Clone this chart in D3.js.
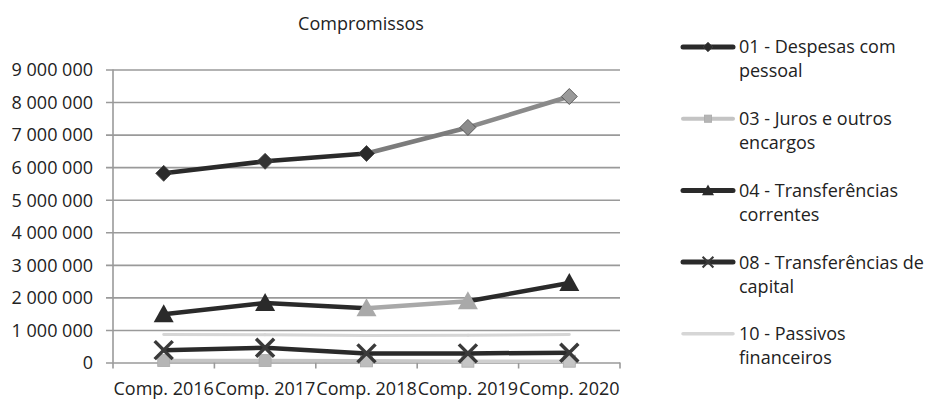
<!DOCTYPE html>
<html>
<head>
<meta charset="utf-8">
<script src="https://cdn.jsdelivr.net/npm/d3@7"></script>
<style>
  html, body { margin: 0; padding: 0; background: #fff; }
  svg { display: block; }
  text { font-family: "Open Sans", "Noto Sans", sans-serif; fill: #222; }
</style>
</head>
<body>
<div id="chart"></div>
<script>
// ---- data ----
const title = "Compromissos";
const categories = ["Comp. 2016", "Comp. 2017", "Comp. 2018", "Comp. 2019", "Comp. 2020"];
const seriesNames = [
  "01 - Despesas com pessoal",
  "03 - Juros e outros encargos",
  "04 - Transferências correntes",
  "08 - Transferências de capital",
  "10 - Passivos financeiros"
];
const despesasPessoal = [5810000, 6180000, 6420000, 7220000, 8170000];
const jurosEncargos = [60000, 60000, 50000, 40000, 40000];
const transfCorrentes = [1480000, 1830000, 1670000, 1880000, 2440000];
const transfCapital = [380000, 450000, 280000, 280000, 300000];
const passivosFinanceiros = [860000, 850000, 830000, 840000, 860000];
const yTicks = [0, 1000000, 2000000, 3000000, 4000000, 5000000, 6000000, 7000000, 8000000, 9000000];

// ---- styles (kept separate from data) ----
const styles = [
  { marker: "diamond", seg: ["#2a2a2a", "#2a2a2a", "#7c7c7c", "#8a8a8a"], mk: ["#2a2a2a", "#333", "#2a2a2a", "#8c8c8c", "#9a9a9a"], w: 4.5 },
  { marker: "square", seg: ["#c4c4c4", "#c4c4c4", "#c8c8c8", "#cfcfcf"], mk: ["#b5b5b5", "#b5b5b5", "#bdbdbd", "#c5c5c5", "#c5c5c5"], w: 3.5 },
  { marker: "triangle", seg: ["#2a2a2a", "#2a2a2a", "#a9a9a9", "#2a2a2a"], mk: ["#2a2a2a", "#2a2a2a", "#a9a9a9", "#a9a9a9", "#2a2a2a"], w: 4.5 },
  { marker: "x", seg: ["#2a2a2a", "#2a2a2a", "#2a2a2a", "#2a2a2a"], mk: ["#3a3a3a", "#3a3a3a", "#3a3a3a", "#3a3a3a", "#3a3a3a"], w: 4.5 },
  { marker: "none", seg: ["#d6d6d6", "#d6d6d6", "#d6d6d6", "#d6d6d6"], mk: ["#ddd", "#ddd", "#ddd", "#ddd", "#ddd"], w: 3 }
];
const seriesValues = [despesasPessoal, jurosEncargos, transfCorrentes, transfCapital, passivosFinanceiros];

const W = 927, H = 399;
const svg = d3.select("#chart").append("svg").attr("width", W).attr("height", H);

const plot = { left: 113, right: 620, top: 69.5, bottom: 362.5 };
const x = d3.scaleBand().domain(categories).range([plot.left, plot.right]);
const y = d3.scaleLinear().domain([0, 9000000]).range([plot.bottom, plot.top]);

const loc = d3.formatLocale({ decimal: ",", thousands: " ", grouping: [3], currency: ["", ""] });
const fmt = loc.format(",d");

// title
svg.append("text").attr("x", 361).attr("y", 30).attr("text-anchor", "middle")
  .style("font-size", "18px").text(title);

// y axis with gridlines
const yAxis = d3.axisLeft(y).tickValues(yTicks).tickFormat(fmt)
  .tickSize(-(plot.right - plot.left)).tickPadding(20);
const gy = svg.append("g").attr("transform", `translate(${plot.left},0)`).call(yAxis);
gy.select(".domain").remove();
gy.selectAll(".tick line").attr("x1", -7).attr("stroke", "#9a9a9a").attr("stroke-width", 1.6);
gy.selectAll(".tick text").style("font-size", "18px").attr("fill", "#222").attr("dy", "0.35em");

// vertical axis line
svg.append("line").attr("x1", plot.left).attr("x2", plot.left)
  .attr("y1", y(9000000)).attr("y2", y(0))
  .attr("stroke", "#9a9a9a").attr("stroke-width", 1.6);

// x axis
const xAxis = d3.axisBottom(x).tickSize(0).tickPadding(20);
const gx = svg.append("g").attr("transform", `translate(0,${plot.bottom})`).call(xAxis);
gx.select(".domain").remove();
gx.selectAll(".tick text").style("font-size", "18px").attr("fill", "#222").attr("dy", "0.71em");
// category boundary ticks
const bounds = categories.map(c => x(c)).concat([x(categories[categories.length - 1]) + x.bandwidth()]);
svg.append("g").selectAll("line").data(bounds).join("line")
  .attr("x1", d => d).attr("x2", d => d)
  .attr("y1", plot.bottom).attr("y2", plot.bottom + 6)
  .attr("stroke", "#9a9a9a").attr("stroke-width", 1.6);

const cx = c => x(c) + x.bandwidth() / 2;

function drawMarker(g, type, px, py, fill, size) {
  const s = size || 1;
  if (type === "diamond") {
    g.append("path").attr("d", `M${px},${py - 8 * s}L${px + 8 * s},${py}L${px},${py + 8 * s}L${px - 8 * s},${py}Z`)
      .attr("fill", fill).attr("stroke", "#444").attr("stroke-width", 0.8);
  } else if (type === "square") {
    g.append("rect").attr("x", px - 6 * s).attr("y", py - 6 * s).attr("width", 12 * s).attr("height", 12 * s)
      .attr("fill", fill).attr("stroke", "#aaa").attr("stroke-width", 0.8);
  } else if (type === "triangle") {
    g.append("path").attr("d", `M${px},${py - 10 * s}L${px + 10 * s},${py + 8 * s}L${px - 10 * s},${py + 8 * s}Z`)
      .attr("fill", fill);
  } else if (type === "x") {
    g.append("path").attr("d", `M${px - 9 * s},${py - 9 * s}L${px + 9 * s},${py + 9 * s}M${px + 9 * s},${py - 9 * s}L${px - 9 * s},${py + 9 * s}`)
      .attr("stroke", fill).attr("stroke-width", 3.5 * s).attr("fill", "none");
  }
}

// draw series (last series first so 01 is on top)
const order = [4, 1, 3, 2, 0];
order.forEach(i => {
  const vals = seriesValues[i];
  const st = styles[i];
  const g = svg.append("g");
  const pts = categories.map((c, k) => [cx(c), y(vals[k])]);
  for (let k = 0; k < pts.length - 1; k++) {
    g.append("path").attr("d", d3.line()([pts[k], pts[k + 1]]))
      .attr("stroke", st.seg[k]).attr("stroke-width", st.w).attr("fill", "none")
      .attr("stroke-linecap", "round");
  }
  pts.forEach((p, k) => drawMarker(g, st.marker, p[0], p[1], st.mk[k], 1));
});

// legend
const legendX0 = 683, legendX1 = 733, textX = 739;
const maxTextW = 188;
const legend = svg.append("g");
seriesNames.forEach((name, i) => {
  const cy = 47 + i * 71.7;
  const st = styles[i];
  const g = legend.append("g");
  g.append("line").attr("x1", legendX0).attr("x2", legendX1).attr("y1", cy).attr("y2", cy)
    .attr("stroke", st.seg[0]).attr("stroke-width", st.w + 0.5).attr("stroke-linecap", "round");
  drawMarker(g, st.marker, (legendX0 + legendX1) / 2, cy, st.mk[0], 0.6);
  // wrap text
  const words = name.split(" ");
  const t = g.append("text").attr("x", textX).attr("y", cy + 6.4).style("font-size", "18px");
  let line = [], lineNo = 0;
  let tspan = t.append("tspan").attr("x", textX).attr("y", cy + 6.4);
  words.forEach(w => {
    line.push(w);
    tspan.text(line.join(" "));
    if (tspan.node().getComputedTextLength() > maxTextW && line.length > 1) {
      line.pop();
      tspan.text(line.join(" "));
      line = [w];
      lineNo++;
      tspan = t.append("tspan").attr("x", textX).attr("y", cy + 6.4 + lineNo * 24).text(w);
    }
  });
});
</script>
</body>
</html>
